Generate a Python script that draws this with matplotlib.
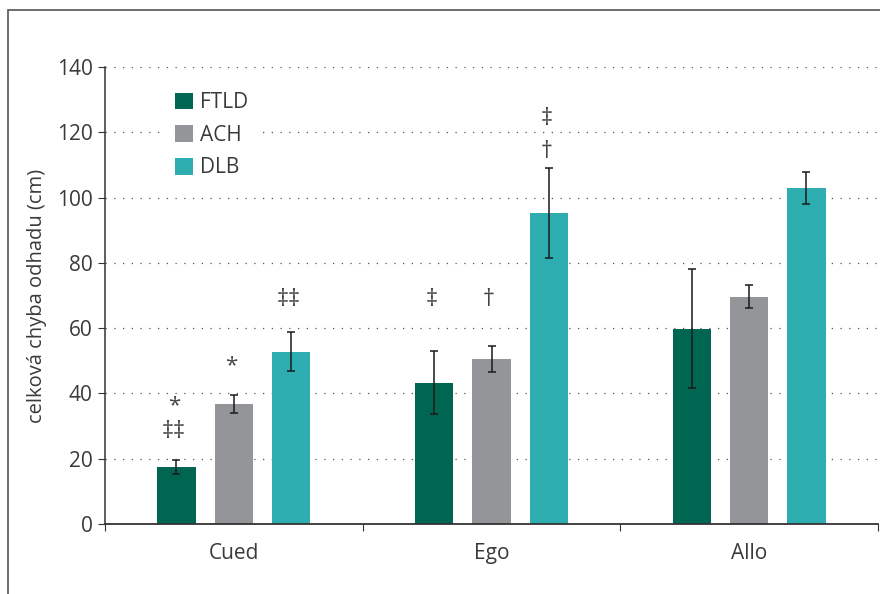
import numpy as np
import matplotlib
matplotlib.use('Agg')
import matplotlib.pyplot as plt
from matplotlib.patches import Rectangle

plt.rcParams['font.family'] = ['Open Sans', 'DejaVu Sans']

# data
conditions = ['Cued', 'Ego', 'Allo']
groups = ['FTLD', 'ACH', 'DLB']
ftld = [17.5, 43.3, 59.8]
ach = [36.8, 50.5, 69.6]
dlb = [52.8, 95.3, 102.9]
ftld_err = [2.2, 9.6, 18.2]
ach_err = [2.7, 4.0, 3.5]
dlb_err = [6.0, 13.8, 4.9]
# significance marks: (condition index, group index, y, text)
marks = [(0, 0, 36.2, '*'), (0, 0, 28.3, '‡‡'), (0, 1, 48.5, '*'),
         (0, 2, 68.6, '‡‡'), (1, 0, 68.6, '‡'), (1, 1, 68.6, '†'),
         (1, 2, 124.0, '‡'), (1, 2, 114.0, '†')]

colors = ['#006651', '#939598', '#2eadb0']
text_col = '#3a3a3a'

fig = plt.figure(figsize=(8.8, 5.94), dpi=100)
ax = fig.add_axes([105/880, 70/594, 773/880, 457/594])

# frame around the figure (only left and top visible)
fig.patches.append(Rectangle((8/880, -0.1), 1.2, (584/594) + 0.1,
                             transform=fig.transFigure, fill=False,
                             edgecolor='#555555', linewidth=1.2))

x = np.arange(len(conditions))
offsets = [-0.223, 0.0, 0.222]
width = 0.149
for vals, errs, off, c, name in zip([ftld, ach, dlb], [ftld_err, ach_err, dlb_err],
                                    offsets, colors, groups):
    ax.bar(x + off, vals, width, color=c, label=name, zorder=2)
    ax.errorbar(x + off, vals, yerr=errs, fmt='none', ecolor='#1a1a1a',
                elinewidth=1.1, capsize=3, capthick=1.1, zorder=3)

for ci, gi, y, t in marks:
    fs = 16 if t == '*' else 17
    ax.text(x[ci] + offsets[gi] - 0.01, y, t, ha='center', va='center',
            fontsize=fs, color='#444444')

ax.set_xlim(-0.5, 2.5)
ax.set_ylim(0, 140)
ax.set_yticks(range(0, 141, 20))
ax.set_xticks([-0.5, 0.5, 1.5, 2.5])
ax.set_xticklabels([])
ax.set_xticks(x, minor=True)
ax.set_xticklabels(conditions, minor=True)
ax.tick_params(axis='x', which='minor', length=0, pad=14, labelsize=15, labelcolor=text_col)
ax.tick_params(axis='x', which='major', length=5, direction='out', color='#333333')
ax.tick_params(axis='y', length=5, direction='out', labelsize=15, labelcolor=text_col,
               color='#333333', pad=4)

ax.yaxis.grid(True, linestyle=(0, (1, 6)), color='#555555', linewidth=0.9, zorder=0)
ax.set_axisbelow(True)
for s in ['top', 'right']:
    ax.spines[s].set_visible(False)
ax.spines['left'].set_color('#333333')
ax.spines['bottom'].set_color('#333333')
ax.spines['left'].set_linewidth(1.1)
ax.spines['bottom'].set_linewidth(1.3)

ax.set_ylabel('celková chyba odhadu (cm)', fontsize=14.5, color=text_col, labelpad=7)

leg = ax.legend(loc='upper left', bbox_to_anchor=(0.066, 0.986), fontsize=15,
                frameon=True, facecolor='white', edgecolor='none', framealpha=1,
                handlelength=0.87, handleheight=0.87, handletextpad=0.35,
                labelspacing=0.56, borderpad=0.4, fancybox=False)
for t in leg.get_texts():
    t.set_color(text_col)

fig.savefig('out.png', dpi=100)
